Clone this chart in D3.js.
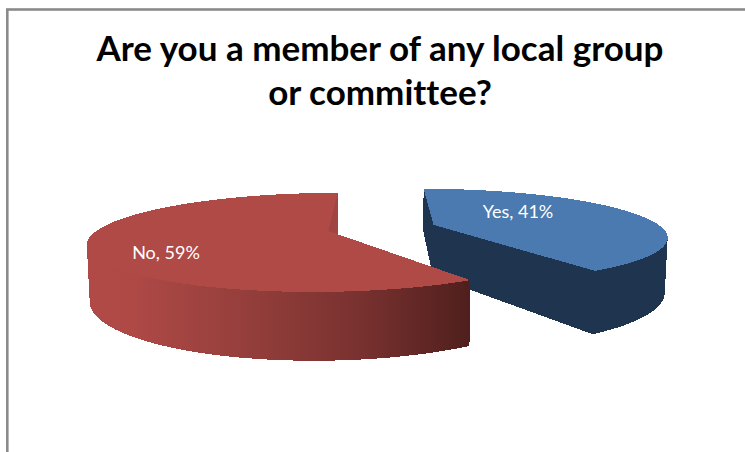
<!DOCTYPE html>
<html>
<head>
<meta charset="utf-8">
<script src="https://cdn.jsdelivr.net/npm/d3@7/dist/d3.min.js"></script>
<style>
  html, body { margin: 0; padding: 0; background: #fff; }
  svg { display: block; }
  text { font-family: Lato, "Open Sans", sans-serif; font-variant-ligatures: none; }
  .slice path { shape-rendering: crispEdges; }
</style>
</head>
<body>
<svg id="chart" width="745" height="452"></svg>
<script>
// Survey answers
const categories = ["Yes", "No"];
const shares = [41, 59];
const titleLines = ["Are you a member of any local group", "or committee?"];

const topColours = ["#4a7ab0", "#af4a46"];
const wallColours = ["#1f344e", "#a04541"];

const width = 745, height = 452;
const svg = d3.select("#chart");

// Perspective camera: the disc plane converges on a vanishing point above the chart
const vanish = { x: 379, y: 27 };
const radius = 232;       // horizontal disc radius at unit depth
const planeDrop = 204;    // screen distance from the horizon at unit depth
const depthRate = 0.23;   // how fast depth changes towards the viewer
const thickness = 53;     // wall height at unit depth
const baseShrink = 0.99;  // the lower rim sits slightly closer to the vanishing line
const explode = 0.24;
const shift = { x: 0.012, y: -0.067 };

function project(px, py, lower) {
  const w = 1 - depthRate * py;
  const k = lower ? baseShrink : 1;
  return [
    vanish.x + k * radius * px / w,
    vanish.y + (planeDrop + (lower ? thickness : 0)) / w
  ];
}

const slices = d3.pie().sort(null).startAngle(0).endAngle(2 * Math.PI)(shares);

const line = d3.line();
const defs = svg.append("defs");

// Shading along the red wall, from lit left to shadowed right
const shade = defs.append("linearGradient")
  .attr("id", "redWall")
  .attr("gradientUnits", "userSpaceOnUse")
  .attr("x1", 86).attr("x2", 471).attr("y1", 0).attr("y2", 0);
[[0, "#b04a46"], [0.12, "#ae4946"], [0.4, "#963f3c"], [0.7, "#7a3230"], [1, "#4f1f1d"]]
  .forEach(([o, c]) => shade.append("stop").attr("offset", o).attr("stop-color", c));

svg.append("rect")
  .attr("x", 7.3).attr("y", 9.5)
  .attr("width", width + 20).attr("height", height + 20)
  .attr("fill", "#fff")
  .attr("stroke", "#8a8a8a")
  .attr("stroke-width", 2.6);

slices.forEach((s, i) => {
  const mid = (s.startAngle + s.endAngle) / 2;
  const ox = shift.x + explode * Math.sin(mid);
  const oy = shift.y - explode * Math.cos(mid);
  const rim = t => [ox + Math.sin(t), oy - Math.cos(t)];

  const angles = d3.range(0, 121).map(j => s.startAngle + (s.endAngle - s.startAngle) * j / 120);
  const apexUp = project(ox, oy, false);
  const apexLow = project(ox, oy, true);
  const upper = angles.map(t => project(...rim(t), false));
  const lower = angles.map(t => project(...rim(t), true));
  const wallFill = i === 1 ? "url(#redWall)" : wallColours[i];
  const g = svg.append("g").attr("class", "slice " + categories[i]);
  const last = angles.length - 1;

  // Cut faces first, then the outer wall strip by strip, then the lid over them
  if (i === 0) {
    g.append("path")
      .attr("d", line([upper[last], apexUp, apexLow, lower[last]]) + "Z")
      .attr("fill", wallColours[i]);
  }
  g.selectAll("path.strip")
    .data(d3.range(last))
    .join("path")
    .attr("class", "strip")
    .attr("d", j => line([upper[j], upper[j + 1], lower[j + 1], lower[j]]) + "Z")
    .attr("fill", wallFill);
  g.append("path")
    .attr("d", line([upper[i === 0 ? 0 : last], apexUp, apexLow, lower[i === 0 ? 0 : last]]) + "Z")
    .attr("fill", wallColours[i]);
  g.append("path")
    .attr("d", line([apexUp, ...upper]) + "Z")
    .attr("fill", topColours[i]);
});

// Data labels
const labelSpots = [[518, 217.5], [166, 258.5]];
svg.selectAll("text.label")
  .data(slices)
  .join("text")
  .attr("class", "label")
  .attr("x", (d, i) => labelSpots[i][0])
  .attr("y", (d, i) => labelSpots[i][1])
  .attr("text-anchor", "middle")
  .attr("fill", "#fff")
  .attr("font-size", 18)
  .text((d, i) => `${categories[i]}, ${d.data}%`);

// Title
svg.selectAll("text.title")
  .data(titleLines)
  .join("text")
  .attr("class", "title")
  .attr("x", 380)
  .attr("y", (d, i) => 61 + i * 44.4)
  .attr("text-anchor", "middle")
  .attr("font-size", 35)
  .attr("font-weight", 700)
  .attr("fill", "#000")
  .text(d => d);
</script>
</body>
</html>
